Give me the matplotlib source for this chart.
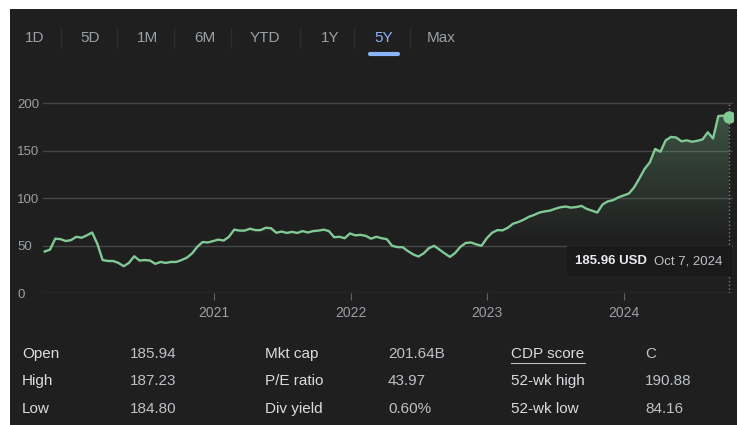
import matplotlib.pyplot as plt
import matplotlib.dates as mdates
import matplotlib.colors as mcolors
import numpy as np
import pandas as pd
from matplotlib.patches import Rectangle, Polygon
from matplotlib.lines import Line2D

plt.rcParams['font.family'] = ['Liberation Sans', 'DejaVu Sans']

# range selector tabs
tabs = ['1D', '5D', '1M', '6M', 'YTD', '1Y', '5Y', 'Max']
active_tab = '5Y'

# roughly biweekly closes, Oct 7 2019 -> Oct 7 2024
prices = [44, 46, 57.5, 57, 55, 56, 59.5, 58.5, 61, 64,
          52, 35, 34, 34, 32, 28.5, 32, 39, 34.5, 35,
          34.5, 31, 33, 32, 33, 33, 35, 37.5, 42, 49,
          54, 53.5, 55, 56.5, 55.5, 59.5, 67, 66, 66, 68,
          66.5, 66.5, 69, 68.5, 63.7, 65, 63.5, 64.7, 63.5, 65.5,
          64, 65.5, 66, 67, 65.5, 59, 59.5, 58, 63, 61,
          61.5, 60.5, 57.5, 59.5, 58, 57, 50, 48.6, 48.5, 44.5,
          41, 38.7, 42, 47.5, 50, 46, 42, 38.3, 42.5, 49,
          53, 53.5, 51.5, 50, 58, 63.7, 66.5, 66.3, 69, 73.3,
          75, 77.5, 80.5, 82.5, 85, 86.2, 87, 89, 90.6, 91.3,
          90.2, 90.8, 92, 88.8, 87, 85, 93.5, 96.8, 98, 101,
          103, 105, 111.5, 121, 131, 138, 152, 149, 161, 164.6,
          164, 160, 161, 159.5, 160.5, 162, 169.5, 163, 186.6, 187,
          185.96]
dates = pd.date_range('2019-10-07', '2024-10-07', periods=len(prices))

year_ticks = ['2021', '2022', '2023', '2024']
y_ticks = [0, 50, 100, 150, 200]

last_price = '185.96 USD'
last_date = 'Oct 7, 2024'

stat_labels = [['Open', 'High', 'Low'],
               ['Mkt cap', 'P/E ratio', 'Div yield'],
               ['CDP score', '52-wk high', '52-wk low']]
stat_values = [['185.94', '187.23', '184.80'],
               ['201.64B', '43.97', '0.60%'],
               ['C', '190.88', '84.16']]

W, H = 738, 425
BG = '#1f1f1f'
GREEN = '#81c995'
GREY = '#9aa0a6'


def px(x, y):
    return x / W, 1 - y / H


fig = plt.figure(figsize=(W / 100, H / 100), dpi=100, facecolor='white')
fig.patches.append(Rectangle(px(10, H), (737 - 10) / W, (H - 9) / H,
                             transform=fig.transFigure, facecolor=BG,
                             edgecolor='none', zorder=-1))

# tabs
tab_x = [35, 90, 147, 205, 265, 330, 384, 441]
sep_x = [61, 117, 174, 231, 300, 354, 410]
for t, x in zip(tabs, tab_x):
    fig.text(*px(x, 38), t, ha='center', va='center', fontsize=11,
             color='#8ab4f8' if t == active_tab else GREY)
for x in sep_x:
    fig.add_artist(Line2D([x / W] * 2, [px(0, 28)[1], px(0, 48)[1]],
                          transform=fig.transFigure, color='#2c2d2f', lw=1))
ux = tab_x[tabs.index(active_tab)]
fig.add_artist(Line2D([(ux - 14) / W, (ux + 14) / W], [px(0, 54)[1]] * 2,
                      transform=fig.transFigure, color='#8ab4f8', lw=3,
                      solid_capstyle='round'))

# price chart
y0, y200 = 293.3, 103.3
ppu = (y0 - y200) / 200
ytop = y0 - 210 * ppu
ax = fig.add_axes([43 / W, (H - y0) / H, (733 - 43) / W, (y0 - ytop) / H])
ax.patch.set_alpha(0)
for s in ax.spines.values():
    s.set_visible(False)

xn = mdates.date2num(dates)
verts = [(xn[0], 0)] + list(zip(xn, prices)) + [(xn[-1], 0)]
poly = Polygon(verts, closed=True, facecolor='none', edgecolor='none')
ax.add_patch(poly)
vals = np.linspace(210, 0, 256)
grad = np.zeros((256, 1, 4))
grad[..., :3] = mcolors.to_rgb(GREEN)
grad[..., 3] = (np.clip((vals - 50) / 150, 0, 1) ** 1.1 * 0.34)[:, None]
im = ax.imshow(grad, extent=[xn[0], xn[-1], 0, 210], aspect='auto',
               origin='upper', zorder=2, interpolation='bilinear')
im.set_clip_path(poly)

ax.plot(dates, prices, color=GREEN, lw=1.7, zorder=3, solid_joinstyle='round')
ax.plot(dates[-1:], prices[-1:], 'o', ms=8, color=GREEN, zorder=4)
ax.vlines(xn[-1], 0, 200, colors='#8a8f94', linestyles=(0, (1, 2)), lw=0.9,
          zorder=2)

d21 = mdates.date2num(pd.Timestamp('2021-01-01'))
d24 = mdates.date2num(pd.Timestamp('2024-01-01'))
ppd = (624 - 214) / (d24 - d21)
ax.set_xlim(d21 - (214 - 43) / ppd, d21 + (733 - 214) / ppd)
ax.set_ylim(0, 210)

ax.set_yticks(y_ticks)
ax.set_yticklabels([str(v) for v in y_ticks])
ax.yaxis.grid(True, color='#444746', lw=1)
ax.set_axisbelow(True)
ax.tick_params(axis='y', length=0, pad=26 * 0.72, labelcolor=GREY, labelsize=9.5)
for lbl in ax.get_yticklabels():
    lbl.set_horizontalalignment('left')

ax.set_xticks([pd.Timestamp(f'{y}-01-01') for y in year_ticks])
ax.set_xticklabels(year_ticks)
ax.tick_params(axis='x', length=5, color='#5f6368', labelcolor=GREY,
               labelsize=10, pad=4)

# tooltip
fig.patches.append(Rectangle(px(567, 276), (732 - 567) / W, 30 / H,
                             transform=fig.transFigure, facecolor='#1a1a1b',
                             edgecolor='none', zorder=5))
fig.text(*px(575, 261), last_price, ha='left', va='center', fontsize=9.5,
         fontweight='bold', color='#e8eaed', zorder=6)
fig.text(*px(654, 261), last_date, ha='left', va='center', fontsize=9.5,
         color='#bdc1c6', zorder=6)

# key stats
label_x = [22, 265, 511]
value_x = [130, 388, 645]
row_y = [354, 381, 409]
for c in range(3):
    for r in range(3):
        fig.text(*px(label_x[c], row_y[r]), stat_labels[c][r], ha='left',
                 va='center', fontsize=11, color='#dadce0')
        fig.text(*px(value_x[c], row_y[r]), stat_values[c][r], ha='left',
                 va='center', fontsize=11, color='#bdc1c6')
fig.add_artist(Line2D([511 / W, 585 / W], [px(0, 363)[1]] * 2,
                      transform=fig.transFigure, color='#bdc1c6', lw=0.8))

fig.savefig('out.png', dpi=100, facecolor=fig.get_facecolor())
